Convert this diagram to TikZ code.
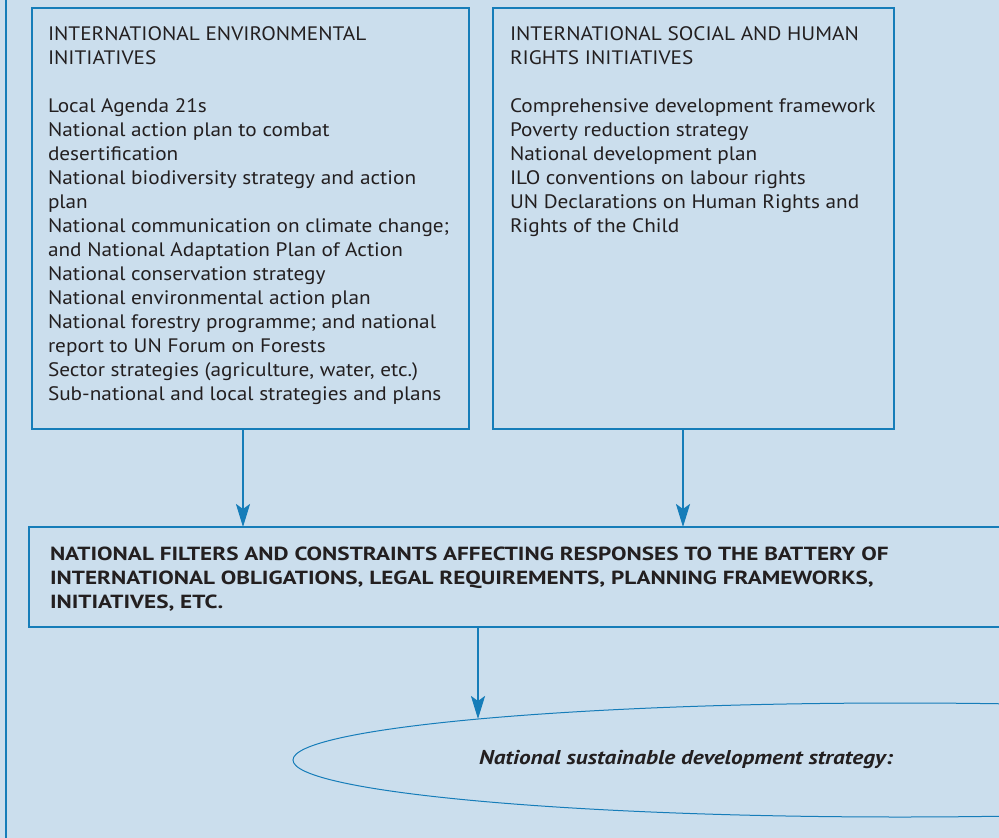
\documentclass[tikz,border=0pt]{standalone}
\usepackage{fontspec}
\setmainfont{PT Sans}
\newfontfamily\regf[FakeStretch=1.09]{PT Sans}
\newfontfamily\boldf[FakeStretch=1.22]{PT Sans}
\newfontfamily\bif[FakeStretch=1.165]{PT Sans}
\usetikzlibrary{arrows.meta,shapes.geometric}
\definecolor{bg}{RGB}{203,222,237}
\definecolor{ln}{RGB}{22,125,185}
\definecolor{tx}{RGB}{35,31,32}
\begin{document}
\begin{tikzpicture}[x=1pt,y=-1pt,
  box/.style={draw=ln,line width=1.3pt,rectangle,anchor=north west,inner sep=0pt,outer sep=0pt},
  txt/.style={anchor=north west,align=left,inner sep=0pt,outer sep=0pt,text=tx,font=\regf\fontsize{19.5}{24}\selectfont},
  btxt/.style={txt,font=\boldf\fontsize{19}{24}\selectfont\bfseries},
  arr/.style={draw=ln,line width=2.2pt,-{Stealth[length=23pt,width=14pt,inset=5pt]}}]
\useasboundingbox (0,0) rectangle (999,838);
\clip (0,0) rectangle (999,838);
\fill[bg] (0,0) rectangle (999,838);
\draw[ln,line width=1.3pt] (6,-10) rectangle (1020,860);
% boxes
\node[box,minimum width=437pt,minimum height=421pt] (env) at (32,8) {};
\node[box,minimum width=401pt,minimum height=421pt] (soc) at (493,8) {};
\node[box,minimum width=1000pt,minimum height=100pt] (filt) at (29,527) {};
\node[ellipse,draw=ln,line width=1pt,minimum width=1214pt,minimum height=114pt,inner sep=0pt] (ell) at (900,760) {};
% texts
\node[txt] (envt) at (48,26) {\rule{0pt}{14pt}INTERNATIONAL ENVIRONMENTAL\\
INITIATIVES\\
\\
Local Agenda 21s\\
National action plan to combat\\
desertification\\
National biodiversity strategy and action\\
plan\\
National communication on climate change;\\
and National Adaptation Plan of Action\\
National conservation strategy\\
National environmental action plan\\
National forestry programme; and national\\
report to UN Forum on Forests\\
Sector strategies (agriculture, water, etc.)\\
Sub-national and local strategies and plans};
\node[txt] (soct) at (510,26) {\rule{0pt}{14pt}INTERNATIONAL SOCIAL AND HUMAN\\
RIGHTS INITIATIVES\\
\\
Comprehensive development framework\\
Poverty reduction strategy\\
National development plan\\
ILO conventions on labour rights\\
UN Declarations on Human Rights and\\
Rights of the Child};
\node[btxt] (filtt) at (50,546) {\rule{0pt}{14pt}NATIONAL FILTERS AND CONSTRAINTS AFFECTING RESPONSES TO THE BATTERY OF\\
INTERNATIONAL OBLIGATIONS, LEGAL REQUIREMENTS, PLANNING FRAMEWORKS,\\
INITIATIVES, ETC.};
\node[anchor=base west,inner sep=0pt,text=tx,font=\bif\fontsize{20}{24}\selectfont\bfseries\itshape] (ellt) at (479,764) {National sustainable development strategy:};
% arrows
\coordinate (a1) at (243,0);
\coordinate (a2) at (683,0);
\coordinate (etop) at (478,719);
\draw[arr] (a1 |- env.south) -- (a1 |- filt.north);
\draw[arr] (a2 |- soc.south) -- (a2 |- filt.north);
\draw[arr] (etop |- filt.south) -- (etop);
\end{tikzpicture}
\end{document}
